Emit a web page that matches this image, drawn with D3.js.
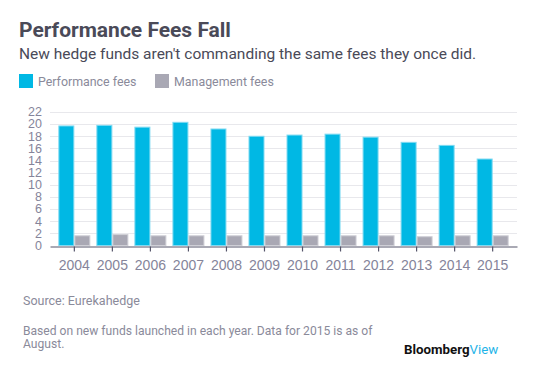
<!DOCTYPE html>
<html>
<head>
<meta charset="utf-8">
<script src="https://cdn.jsdelivr.net/npm/d3@7"></script>
<style>
  html, body { margin: 0; padding: 0; background: #fff; }
  svg { display: block; }
</style>
</head>
<body>
<script>
const years = ["2004","2005","2006","2007","2008","2009","2010","2011","2012","2013","2014","2015"];
const performanceFees = [19.7, 19.8, 19.5, 20.3, 19.2, 18.0, 18.2, 18.35, 17.85, 17.0, 16.5, 14.25];
const managementFees = [1.6, 1.8, 1.6, 1.6, 1.6, 1.6, 1.6, 1.6, 1.6, 1.45, 1.6, 1.6];
const yTicks = [0, 2, 4, 6, 8, 10, 12, 14, 16, 18, 20, 22];
const seriesNames = ["Performance fees", "Management fees"];
const colors = ["#00b8e4", "#a9a8b4"];
const strokes = ["#7fdaf2", "#cfcfd6"];

(function () {
const W = 557, H = 383;
const svg = d3.select("body").append("svg").attr("width", W).attr("height", H);

const mLeft = 50, mRight = 517, mTop = 112, mBottom = 245.5;

const x = d3.scaleBand().domain(years).range([mLeft, mRight]).paddingInner(0).paddingOuter(0.14);
const y = d3.scaleLinear().domain([0, 22]).range([mBottom, mTop]);

// gridlines
svg.append("g").selectAll("line").data(yTicks.filter(d => d > 0)).join("line")
  .attr("x1", mLeft).attr("x2", mRight)
  .attr("y1", d => Math.round(y(d)) + 0.5).attr("y2", d => Math.round(y(d)) + 0.5)
  .attr("stroke", "#e8e8ec").attr("stroke-width", 1);

// y labels
svg.append("g").selectAll("text").data(yTicks).join("text")
  .attr("x", 42).attr("y", d => y(d) + 4.3)
  .attr("text-anchor", "end")
  .attr("font-family", "Liberation Sans, Arial, sans-serif")
  .attr("font-size", 12.5)
  .attr("fill", "#85849a")
  .text(d => d);

// bars
const bw = 15;
const g = svg.append("g");
years.forEach((yr, i) => {
  const cx = x(yr) + x.bandwidth() / 2;
  g.append("rect")
    .attr("x", cx - bw - 0.5).attr("width", bw)
    .attr("y", y(performanceFees[i])).attr("height", mBottom - y(performanceFees[i]))
    .attr("fill", colors[0]).attr("stroke", strokes[0]).attr("stroke-width", 1);
  g.append("rect")
    .attr("x", cx + 0.5).attr("width", bw)
    .attr("y", y(managementFees[i])).attr("height", mBottom - y(managementFees[i]))
    .attr("fill", colors[1]).attr("stroke", strokes[1]).attr("stroke-width", 1);
});

// x axis
const xAxis = svg.append("g").attr("transform", `translate(0,${Math.round(mBottom)+0.5})`)
  .call(d3.axisBottom(x).tickSize(5).tickSizeOuter(0).tickPadding(9));
xAxis.select(".domain").attr("stroke", "#55556a").attr("stroke-width", 1.2);
xAxis.selectAll(".tick line").attr("stroke", "#55556a").attr("stroke-width", 1.2);
xAxis.selectAll(".tick text")
  .attr("font-family", "Liberation Sans, Arial, sans-serif")
  .attr("font-size", 14)
  .attr("fill", "#85849a");

// title & subtitle
svg.append("text").attr("x", 19).attr("y", 37)
  .attr("font-family", "Roboto, sans-serif").attr("font-weight", "bold")
  .attr("font-size", 21).attr("fill", "#4a4a58")
  .text("Performance Fees Fall");
svg.append("text").attr("x", 19).attr("y", 59)
  .attr("font-family", "Roboto, sans-serif")
  .attr("font-size", 15.5).attr("fill", "#4a4a58")
  .text("New hedge funds aren't commanding the same fees they once did.");

// legend
const legX = [19, 155];
seriesNames.forEach((n, i) => {
  svg.append("rect").attr("x", legX[i]).attr("y", 74).attr("width", 14).attr("height", 14)
    .attr("fill", colors[i]);
  svg.append("text").attr("x", legX[i] + 19).attr("y", 85.5)
    .attr("font-family", "Roboto, sans-serif").attr("font-size", 12.4)
    .attr("fill", "#8a8a9a")
    .text(n);
});

// source and notes
const noteFont = "Roboto, sans-serif";
svg.append("text").attr("x", 23).attr("y", 305)
  .attr("font-family", noteFont).attr("font-size", 12.5).attr("fill", "#8a8a9a")
  .text("Source: Eurekahedge");
svg.append("text").attr("x", 23).attr("y", 335)
  .attr("font-family", noteFont).attr("font-size", 12.1).attr("fill", "#8a8a9a")
  .text("Based on new funds launched in each year. Data for 2015 is as of");
svg.append("text").attr("x", 23).attr("y", 348)
  .attr("font-family", noteFont).attr("font-size", 12.1).attr("fill", "#8a8a9a")
  .text("August.");

// logo
const logo = svg.append("text").attr("x", 404).attr("y", 354)
  .attr("font-family", "Roboto, sans-serif").attr("font-size", 13.3).attr("font-weight", "bold");
logo.append("tspan").attr("fill", "#111").text("Bloomberg");
logo.append("tspan").attr("fill", "#1fb4e8").attr("font-weight", "normal").text("View");
})();
</script>
</body>
</html>
